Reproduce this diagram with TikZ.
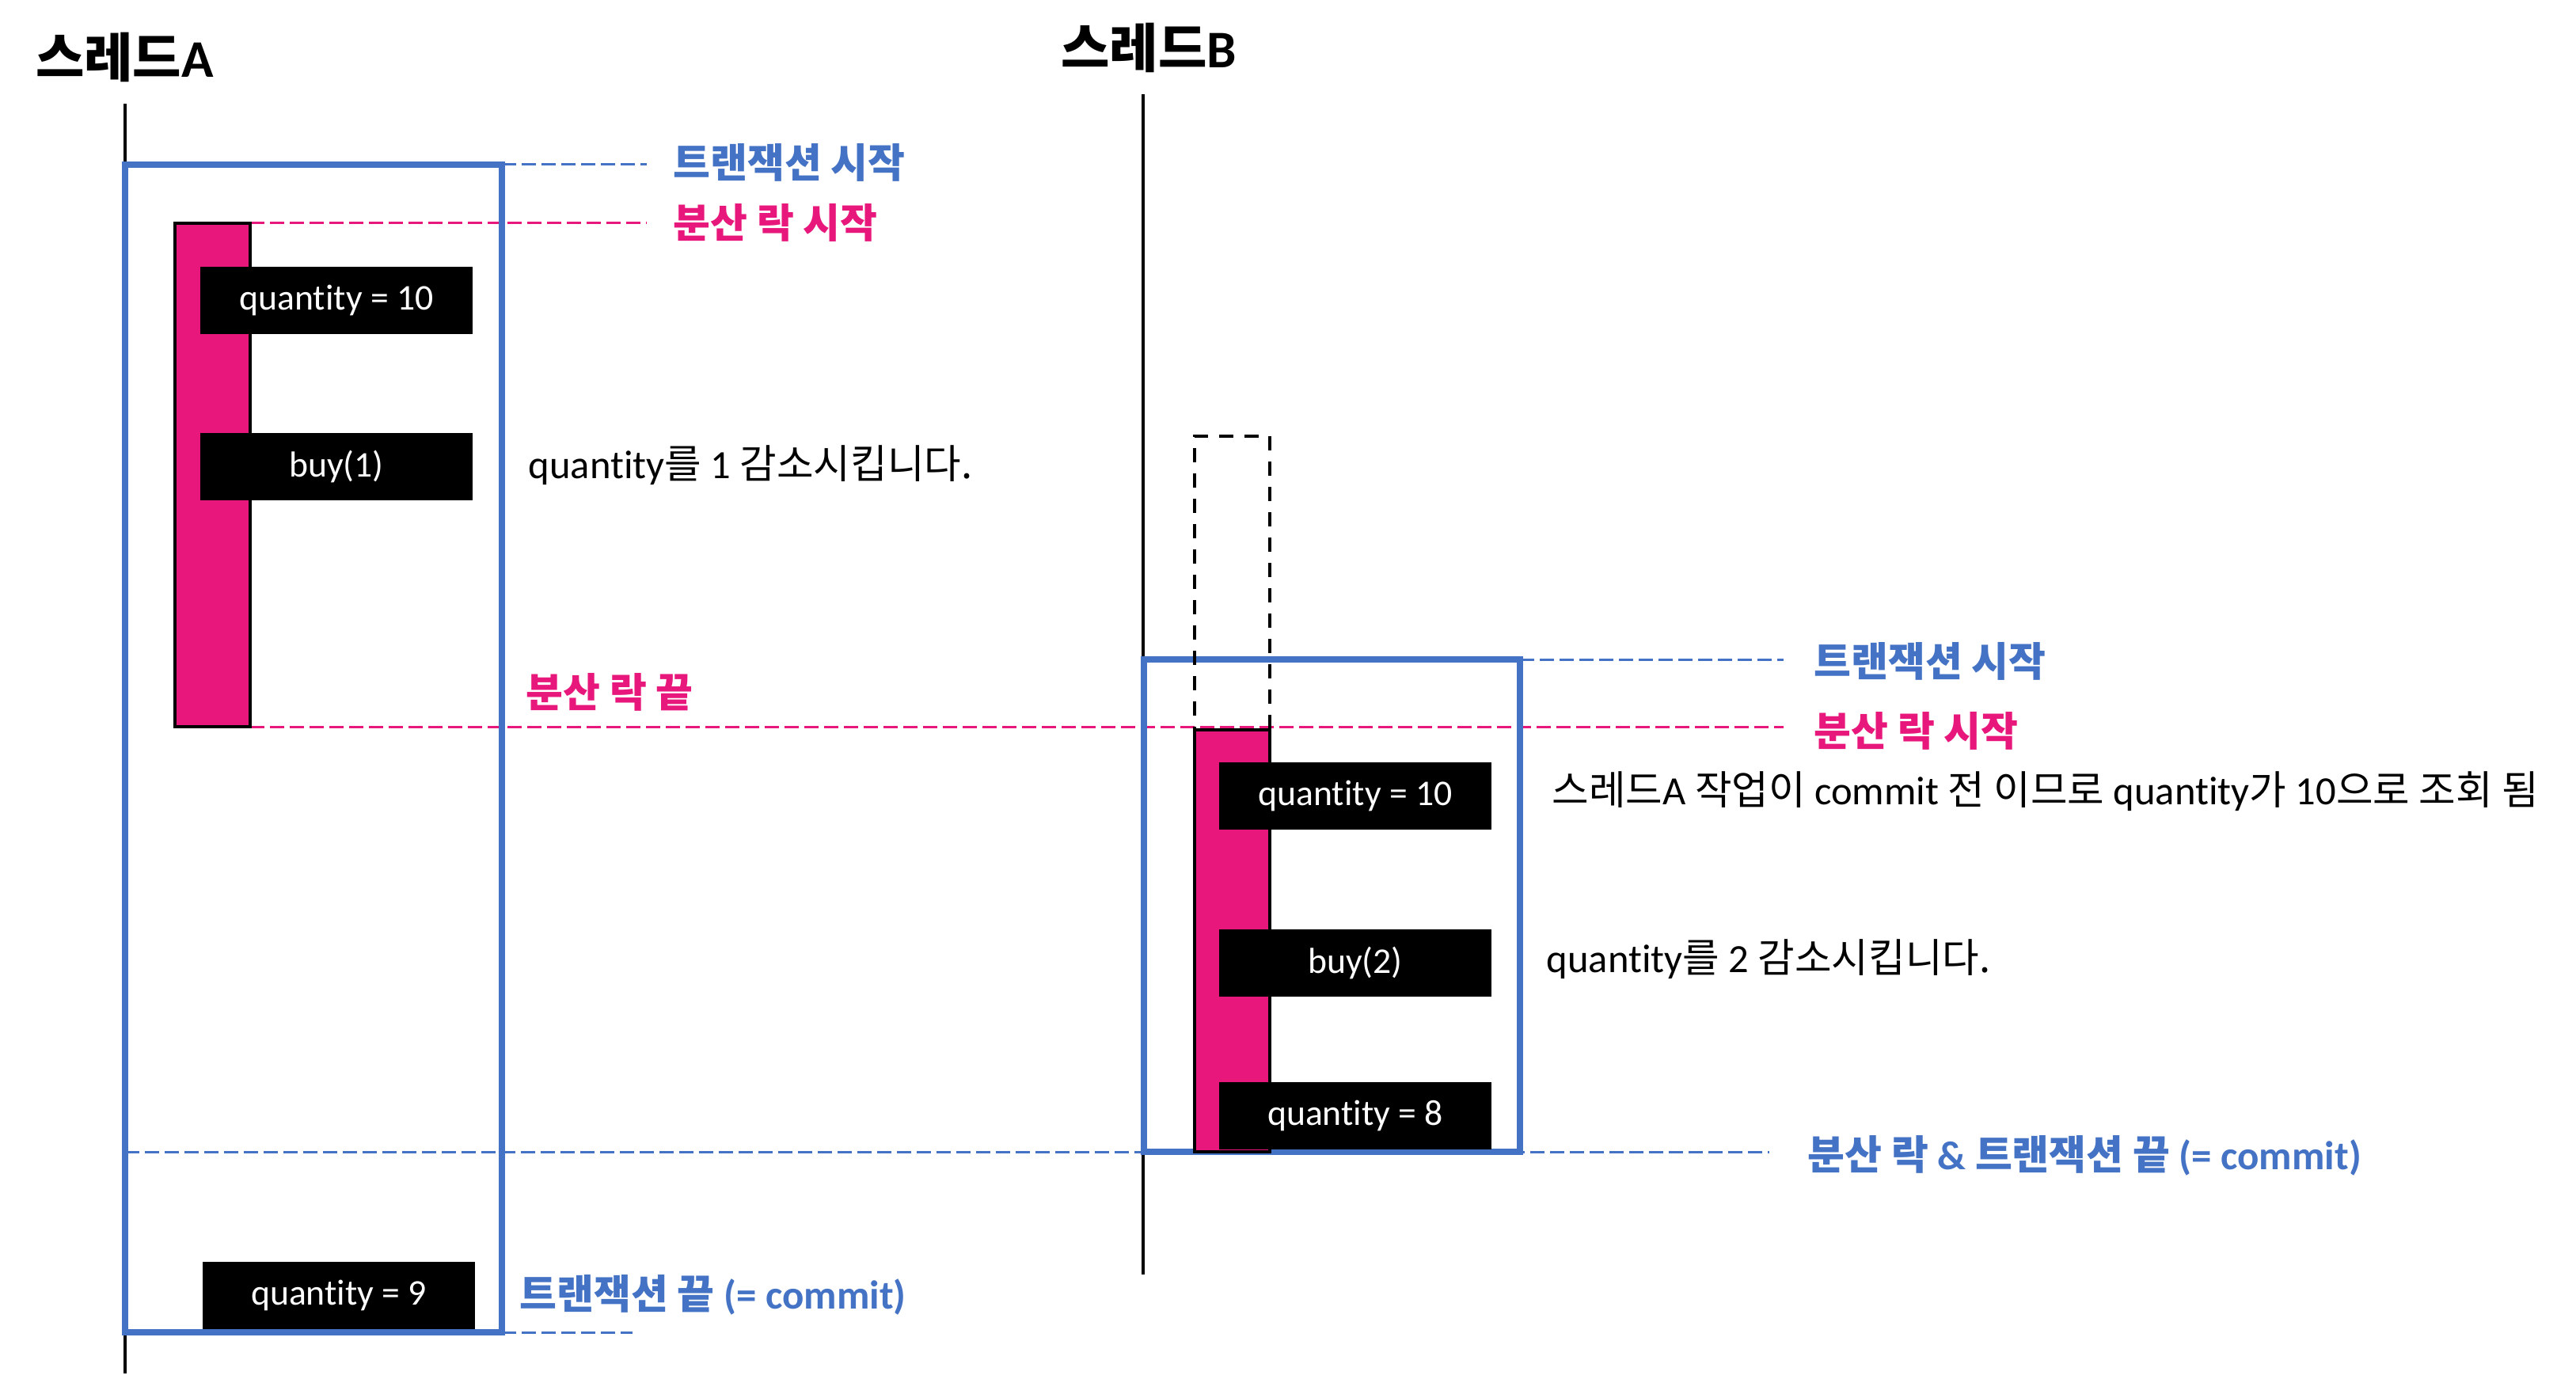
\documentclass[tikz,border=0pt]{standalone}
\usepackage{fontspec}
\setmainfont{Carlito}[Ligatures=CommonOff]
\newfontfamily\kr{Noto Sans CJK KR}
\usetikzlibrary{positioning,backgrounds}
\definecolor{txblue}{RGB}{68,114,196}
\definecolor{lockpink}{RGB}{231,23,123}
\tikzset{
  thread/.style={inner sep=0pt,font=\bfseries\fontsize{19}{22}\selectfont},
  lifeline/.style={line width=0.04cm},
  txbox/.style={rectangle,draw=txblue,line width=0.08cm,inner sep=0pt,outer sep=0pt},
  lockbar/.style={rectangle,draw=black,fill=lockpink,line width=0.04cm,inner sep=0pt,
    outer sep=0pt,minimum width=0.95cm},
  waitbar/.style={rectangle,draw=black,dash pattern=on 0.18cm off 0.14cm,line width=0.04cm,
    inner sep=0pt,outer sep=0pt,minimum width=0.95cm},
  opbox/.style={rectangle,fill=black,text=white,inner sep=0pt,outer sep=0pt,
    minimum width=3.44cm,minimum height=0.85cm,font=\fontsize{13}{15}\selectfont},
  txline/.style={draw=txblue,dash pattern=on 0.18cm off 0.07cm,line width=0.03cm},
  lockline/.style={draw=lockpink,dash pattern=on 0.18cm off 0.07cm,line width=0.03cm},
  txlbl/.style={anchor=west,inner sep=0pt,text=txblue,font=\bfseries\fontsize{14.5}{17}\selectfont},
  locklbl/.style={anchor=west,inner sep=0pt,text=lockpink,font=\bfseries\fontsize{14.5}{17}\selectfont},
  note/.style={anchor=west,inner sep=0pt,font=\fontsize{14.4}{17}\selectfont},
}

\begin{document}
\begin{tikzpicture}
  \useasboundingbox (0,0) rectangle (32.54,-17.41);
  % threads
  \node[thread] (thrA) at (1.575,-0.72) {{\kr 스레드}A};
  \node[thread] (thrB) at (14.51,-0.60) {{\kr 스레드}B};
  \coordinate (lifeAtop) at (1.575,-1.31);
  \coordinate (lifeAend) at (1.575,-17.35);
  \coordinate (lifeBtop) at (14.44,-1.19);
  \coordinate (lifeBend) at (14.44,-16.10);
  % transactions
  \node[txbox,minimum width=4.76cm,minimum height=14.75cm,anchor=north west] (boxA) at (1.58,-2.08) {};
  \node[txbox,minimum width=4.75cm,minimum height=6.22cm,anchor=north west] (boxB) at (14.45,-8.33) {};
  % lock bars
  \node[lockbar,minimum height=6.36cm,anchor=north west] (barA) at (2.21,-2.82) {};
  \node[waitbar,minimum height=3.71cm,anchor=south west] (waitB) at (15.09,-9.22) {};
  \node[lockbar,minimum height=5.33cm,anchor=north west] (barB) at (15.09,-9.22) {};
  % operations of thread A
  \node[opbox,anchor=north west] (qtyA) at (2.53,-3.37) {quantity = 10};
  \node[opbox,below=1.25cm of qtyA] (buyA) {buy(1)};
  \node[opbox,anchor=north west] (qtyA2) at (2.56,-15.94) {quantity = 9};
  % operations of thread B
  \node[opbox,anchor=north west] (qtyB) at (15.40,-9.63) {quantity = 10};
  \node[opbox,below=1.255cm of qtyB] (buyB) {buy(2)};
  \node[opbox,below=1.085cm of buyB] (qtyB2) {quantity = 8};
  % labels
  \node[txlbl] (txA) at (8.50,-2.05) {{\kr 트랜잭션 시작}};
  \node[locklbl] (lockA) at (8.50,-2.81) {{\kr 분산 락 시작}};
  \node[note] (noteA) at (6.67,-5.88) {quantity{\kr 를} 1 {\kr 감소시킵니다.}};
  \node[locklbl] (unlockA) at (6.64,-8.74) {{\kr 분산 락 끝}};
  \node[txlbl] (endA) at (6.56,-16.36) {{\kr 트랜잭션 끝} (= commit)};
  \node[txlbl] (txB) at (22.91,-8.35) {{\kr 트랜잭션 시작}};
  \node[locklbl] (lockB) at (22.91,-9.23) {{\kr 분산 락 시작}};
  \node[note] (noteB) at (19.60,-10.00) {{\kr 스레드}A {\kr 작업이} commit {\kr 전 이므로} quantity{\kr 가} 10{\kr 으로 조회 됨}};
  \node[note] (noteB2) at (19.53,-12.12) {quantity{\kr 를} 2 {\kr 감소시킵니다.}};
  \node[txlbl] (endB) at (22.83,-14.60) {{\kr 분산 락} \& {\kr 트랜잭션 끝} (= commit)};
  % guide lines
  \coordinate (tipA) at (8.17,0);
  \coordinate (tipB) at (22.53,0);
  \coordinate (tipC) at (22.35,0);
  \coordinate (tipD) at (7.99,0);
  \begin{scope}[on background layer]
    \draw[lifeline] (lifeAtop) -- (lifeAend);
    \draw[lifeline] (lifeBtop) -- (lifeBend);
    \draw[txline] (boxA.north east) -- (boxA.north east -| tipA);
    \draw[lockline] (barA.north east) -- (barA.north east -| tipA);
    \draw[lockline] (barA.south east) -- (barA.south east -| tipB);
    \draw[txline] (boxB.north east) -- (boxB.north east -| tipB);
    \draw[txline] (boxA.west |- boxB.south) -- (boxB.south -| tipC);
    \draw[txline] (boxA.south east) -- (boxA.south east -| tipD);
  \end{scope}
\end{tikzpicture}
\end{document}
